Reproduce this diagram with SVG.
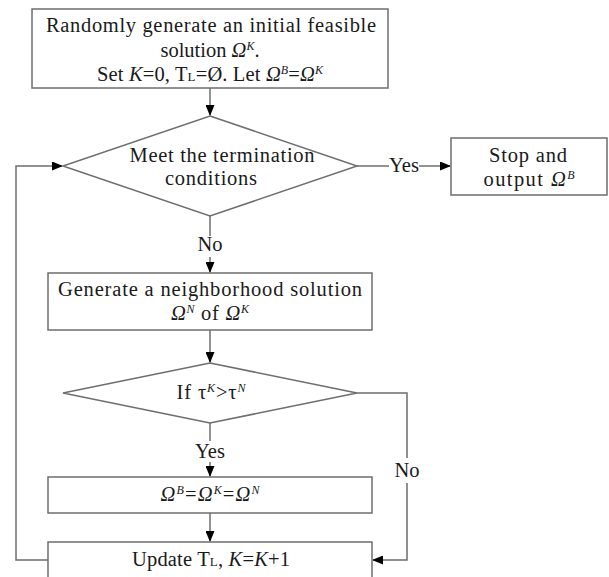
<svg xmlns="http://www.w3.org/2000/svg" width="609" height="577" viewBox="0 0 609 577">
<defs>
<marker id="ah" markerUnits="userSpaceOnUse" markerWidth="11" markerHeight="9" refX="10" refY="4.5" orient="auto">
<path d="M0,0 L11,4.5 L0,9 z" fill="#000"/>
</marker>
<style>
.ln{stroke:#6e6e6e;stroke-width:1.5;fill:none}
.bx{fill:#fff;stroke:#6e6e6e;stroke-width:1.5}
text{font-family:"Liberation Serif","Times New Roman",serif;font-size:20.5px;fill:#1a1a1a;text-anchor:middle}
.it{font-style:italic}
.sup{font-size:12px;font-style:italic}
.sub{font-size:13px}
</style>
</defs>
<rect width="609" height="577" fill="#fff"/>
<g id="connectors">
<path class="ln" d="M210,88 V115" marker-end="url(#ah)"/>
<path class="ln" d="M357,166 H389"/>
<path class="ln" d="M419,166 H450" marker-end="url(#ah)"/>
<path class="ln" d="M210,216 V236"/>
<path class="ln" d="M210,257 V272" marker-end="url(#ah)"/>
<path class="ln" d="M48,560 H16 V166 H62" marker-end="url(#ah)"/>
<path class="ln" d="M210,330 V362" marker-end="url(#ah)"/>
<path class="ln" d="M210,423 V441"/>
<path class="ln" d="M210,462 V476" marker-end="url(#ah)"/>
<path class="ln" d="M357,393 H407 V458"/>
<path class="ln" d="M407,483 V560 H373" marker-end="url(#ah)"/>
<path class="ln" d="M210,513 V541" marker-end="url(#ah)"/>
<text x="404" y="172" textLength="30">Yes</text>
<text x="210" y="251" textLength="25">No</text>
<text x="210" y="458" textLength="30">Yes</text>
<text x="407" y="477" textLength="25">No</text>
</g>
<g id="start">
<rect class="bx" x="32" y="9" width="356" height="79"/>
<text x="211" y="32" textLength="330">Randomly generate an initial feasible</text>
<text x="210" y="57">solution <tspan class="it">Ω</tspan><tspan class="sup" dy="-7">K</tspan><tspan dy="7">.</tspan></text>
<text x="210" y="81" textLength="226">Set <tspan class="it">K</tspan>=0, T<tspan class="sub">L</tspan>=Ø. Let <tspan class="it">Ω</tspan><tspan class="sup" dy="-7">B</tspan><tspan dy="7">=</tspan><tspan class="it">Ω</tspan><tspan class="sup" dy="-7">K</tspan></text>
</g>
<g id="terminate">
<polygon class="bx" points="210,116 357,166 210,216 63,166"/>
<text x="222" y="162" textLength="185">Meet the termination</text>
<text x="211" y="185" textLength="92">conditions</text>
</g>
<g id="stop">
<rect class="bx" x="451" y="138" width="156" height="57"/>
<text x="528" y="162" textLength="78">Stop and</text>
<text x="529" y="186" textLength="91">output <tspan class="it">Ω</tspan><tspan class="sup" dy="-7">B</tspan></text>
</g>
<g id="neighbor">
<rect class="bx" x="48" y="273" width="324" height="57"/>
<text x="210" y="296" textLength="304">Generate a neighborhood solution</text>
<text x="210" y="320" textLength="78"><tspan class="it">Ω</tspan><tspan class="sup" dy="-7">N</tspan><tspan dy="7"> of </tspan><tspan class="it">Ω</tspan><tspan class="sup" dy="-7">K</tspan></text>
</g>
<g id="compare">
<polygon class="bx" points="210,363 357,393 210,423 63,393"/>
<text x="211" y="399" textLength="69">If τ<tspan class="sup" dy="-7">K</tspan><tspan dy="7">&gt;τ</tspan><tspan class="sup" dy="-7">N</tspan></text>
</g>
<g id="assign">
<rect class="bx" x="48" y="477" width="324" height="36"/>
<text x="210" y="501" textLength="99"><tspan class="it">Ω</tspan><tspan class="sup" dy="-7">B</tspan><tspan dy="7">=</tspan><tspan class="it">Ω</tspan><tspan class="sup" dy="-7">K</tspan><tspan dy="7">=</tspan><tspan class="it">Ω</tspan><tspan class="sup" dy="-7">N</tspan></text>
</g>
<g id="update">
<rect class="bx" x="48" y="542" width="324" height="40"/>
<text x="211" y="566" textLength="158">Update T<tspan class="sub">L</tspan>, <tspan class="it">K</tspan>=<tspan class="it">K</tspan>+1</text>
</g>
</svg>
